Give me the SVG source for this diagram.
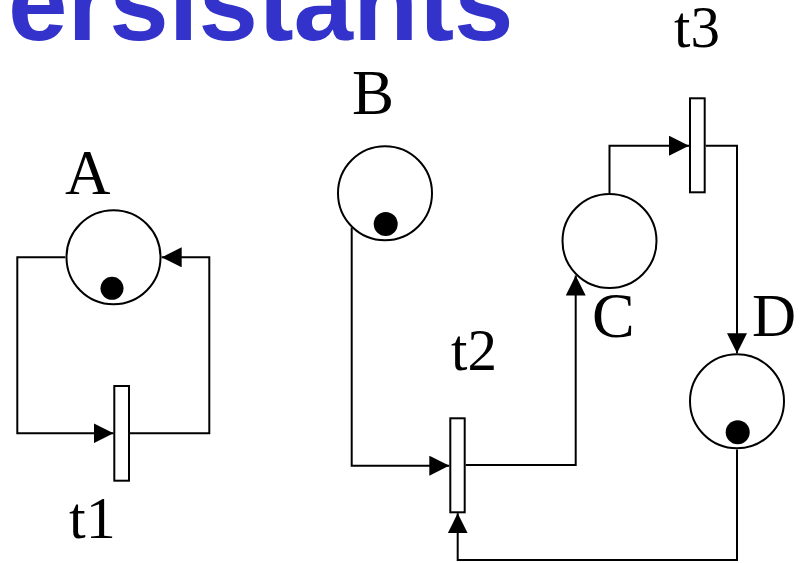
<svg xmlns="http://www.w3.org/2000/svg" width="804" height="563" viewBox="0 0 804 563">
<style>
.title{font-family:"Liberation Sans",Arial,sans-serif;font-weight:bold;fill:#3333CC}
.lbl{font-family:"Liberation Serif","Times New Roman",serif;fill:#000}
.place{fill:#fff;stroke:#000;stroke-width:2}
.trans{fill:#fff;stroke:#000;stroke-width:2}
.tok{fill:#000}
.arc{fill:none;stroke:#000;stroke-width:2;marker-end:url(#ah)}
</style>
<defs>
<marker id="ah" markerUnits="userSpaceOnUse" markerWidth="20" markerHeight="20" refX="20" refY="10" orient="auto">
<path d="M0,0 L20,10 L0,20 z" fill="#000"/>
</marker>
</defs>
<rect width="804" height="563" fill="#fff"/>
<text class="title" x="8" y="40" font-size="107">ersistants</text>
<g id="connectors">
<path class="arc" d="M65.3,257.3 H17.3 V433.3 H113.5"/>
<path class="arc" d="M130,433.3 H209.3 V257.3 H161.7"/>
<path class="arc" d="M351.7,227.6 V465.7 H449.3"/>
<path class="arc" d="M465.7,465 H575.7 V275.5"/>
<path class="arc" d="M609.5,193 V145.7 H689"/>
<path class="arc" d="M705.7,145.7 H737 V353.3"/>
<path class="arc" d="M737,449.5 V560 H457.7 V513.3"/>
</g>
<g id="A">
<circle class="place" cx="113.5" cy="257.3" r="47"/>
<circle class="tok" cx="112" cy="288.3" r="11.5"/>
<text class="lbl" x="65" y="194" font-size="63">A</text>
</g>
<g id="B">
<circle class="place" cx="385" cy="193.3" r="47"/>
<circle class="tok" cx="385.7" cy="224" r="12"/>
<text class="lbl" x="352" y="114" font-size="63">B</text>
</g>
<g id="C">
<circle class="place" cx="609.5" cy="241" r="47"/>
<text class="lbl" x="592" y="337" font-size="64">C</text>
</g>
<g id="D">
<circle class="place" cx="737" cy="401.3" r="47"/>
<circle class="tok" cx="737.7" cy="432.3" r="12"/>
<text class="lbl" x="752" y="336" font-size="61">D</text>
</g>
<g id="t1">
<rect class="trans" x="114.3" y="386" width="14.7" height="94.7"/>
<text class="lbl" x="69" y="538" font-size="60">t1</text>
</g>
<g id="t2">
<rect class="trans" x="450.3" y="418.3" width="14.4" height="94"/>
<text class="lbl" x="451" y="370" font-size="59">t2</text>
</g>
<g id="t3">
<rect class="trans" x="690" y="98.3" width="14.7" height="94"/>
<text class="lbl" x="674" y="47" font-size="59">t3</text>
</g>
</svg>
